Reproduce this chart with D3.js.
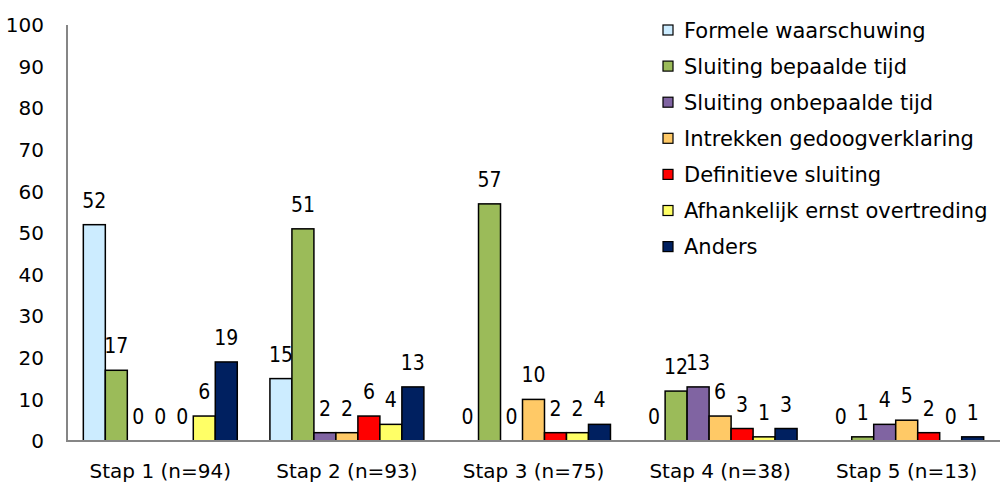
<!DOCTYPE html>
<html><head><meta charset="utf-8">
<script src="https://cdn.jsdelivr.net/npm/d3@7"></script>
<style>body{margin:0;background:#fff}svg{display:block}text{font-family:"DejaVu Sans",sans-serif;fill:#000}
.dl{font-family:"DejaVu Sans Condensed","DejaVu Sans",sans-serif;font-stretch:condensed}</style>
</head><body><svg id="c" width="1000" height="484"></svg>
<script>
const categories = ["Stap 1 (n=94)", "Stap 2 (n=93)", "Stap 3 (n=75)", "Stap 4 (n=38)", "Stap 5 (n=13)"];
const seriesNames = ["Formele waarschuwing", "Sluiting bepaalde tijd", "Sluiting onbepaalde tijd", "Intrekken gedoogverklaring", "Definitieve sluiting", "Afhankelijk ernst overtreding", "Anders"];
const formele = [52, 15, 0, 0, 0];
const bepaalde = [17, 51, 57, 12, 1];
const onbepaalde = [0, 2, 0, 13, 4];
const intrekken = [0, 2, 10, 6, 5];
const definitieve = [0, 6, 2, 3, 2];
const afhankelijk = [6, 4, 2, 1, 0];
const anders = [19, 13, 4, 3, 1];
const yTicks = [0, 10, 20, 30, 40, 50, 60, 70, 80, 90, 100];
const colors = ["#ccecff", "#9bbb59", "#8064a2", "#ffc966", "#ff0000", "#ffff66", "#002060"];

const seriesValues = [formele, bepaalde, onbepaalde, intrekken, definitieve, afhankelijk, anders];
const svg = d3.select("#c");
const x0 = d3.scaleBand().domain(categories).range([67, 1000]).paddingInner(0.175).paddingOuter(0.0875);
const x1 = d3.scaleBand().domain(seriesNames).range([0, x0.bandwidth()]);
const y = d3.scaleLinear().domain([0, 100]).range([441, 25]);

// y tick labels
svg.append("g").selectAll("text").data(yTicks).join("text")
  .attr("x", 44).attr("y", d => y(d)).attr("dy", "0.36em")
  .attr("text-anchor", "end").style("font-size", "20px").text(d => d);

const rows = [];
seriesNames.forEach((s, i) => categories.forEach((c, j) => rows.push({s, c, v: seriesValues[i][j], col: colors[i]})));

svg.append("g").selectAll("rect").data(rows.filter(d => d.v > 0)).join("rect")
  .attr("x", d => x0(d.c) + x1(d.s)).attr("width", x1.bandwidth())
  .attr("y", d => y(d.v)).attr("height", d => y(0) - y(d.v))
  .attr("fill", d => d.col).attr("stroke", "#000").attr("stroke-width", 1.5);

svg.append("g").selectAll("text").data(rows).join("text").attr("class", "dl")
  .attr("x", d => x0(d.c) + x1(d.s) + x1.bandwidth() / 2).attr("y", d => y(d.v) - 17)
  .attr("text-anchor", "middle").style("font-size", "21px").text(d => d.v);

// axes lines
svg.append("line").attr("x1", 67).attr("x2", 67).attr("y1", 25).attr("y2", 442).attr("stroke", "#868686").attr("stroke-width", 2);
svg.append("line").attr("x1", 66).attr("x2", 1000).attr("y1", 441).attr("y2", 441).attr("stroke", "#868686").attr("stroke-width", 2);

// category labels
svg.append("g").selectAll("text").data(categories).join("text")
  .attr("x", d => x0(d) + x0.bandwidth() / 2).attr("y", 478)
  .attr("text-anchor", "middle").style("font-size", "20px").text(d => d);

// legend
const lg = svg.append("g").selectAll("g").data(seriesNames).join("g")
  .attr("transform", (d, i) => `translate(663,${30 + i * 36.1})`);
lg.append("rect").attr("x", 0).attr("y", -5).attr("width", 10).attr("height", 10)
  .attr("fill", (d, i) => colors[i]).attr("stroke", "#000").attr("stroke-width", 1.2);
lg.append("text").attr("x", 21).attr("y", 0).attr("dy", "0.36em").style("font-size", "21px").text(d => d);
</script></body></html>
